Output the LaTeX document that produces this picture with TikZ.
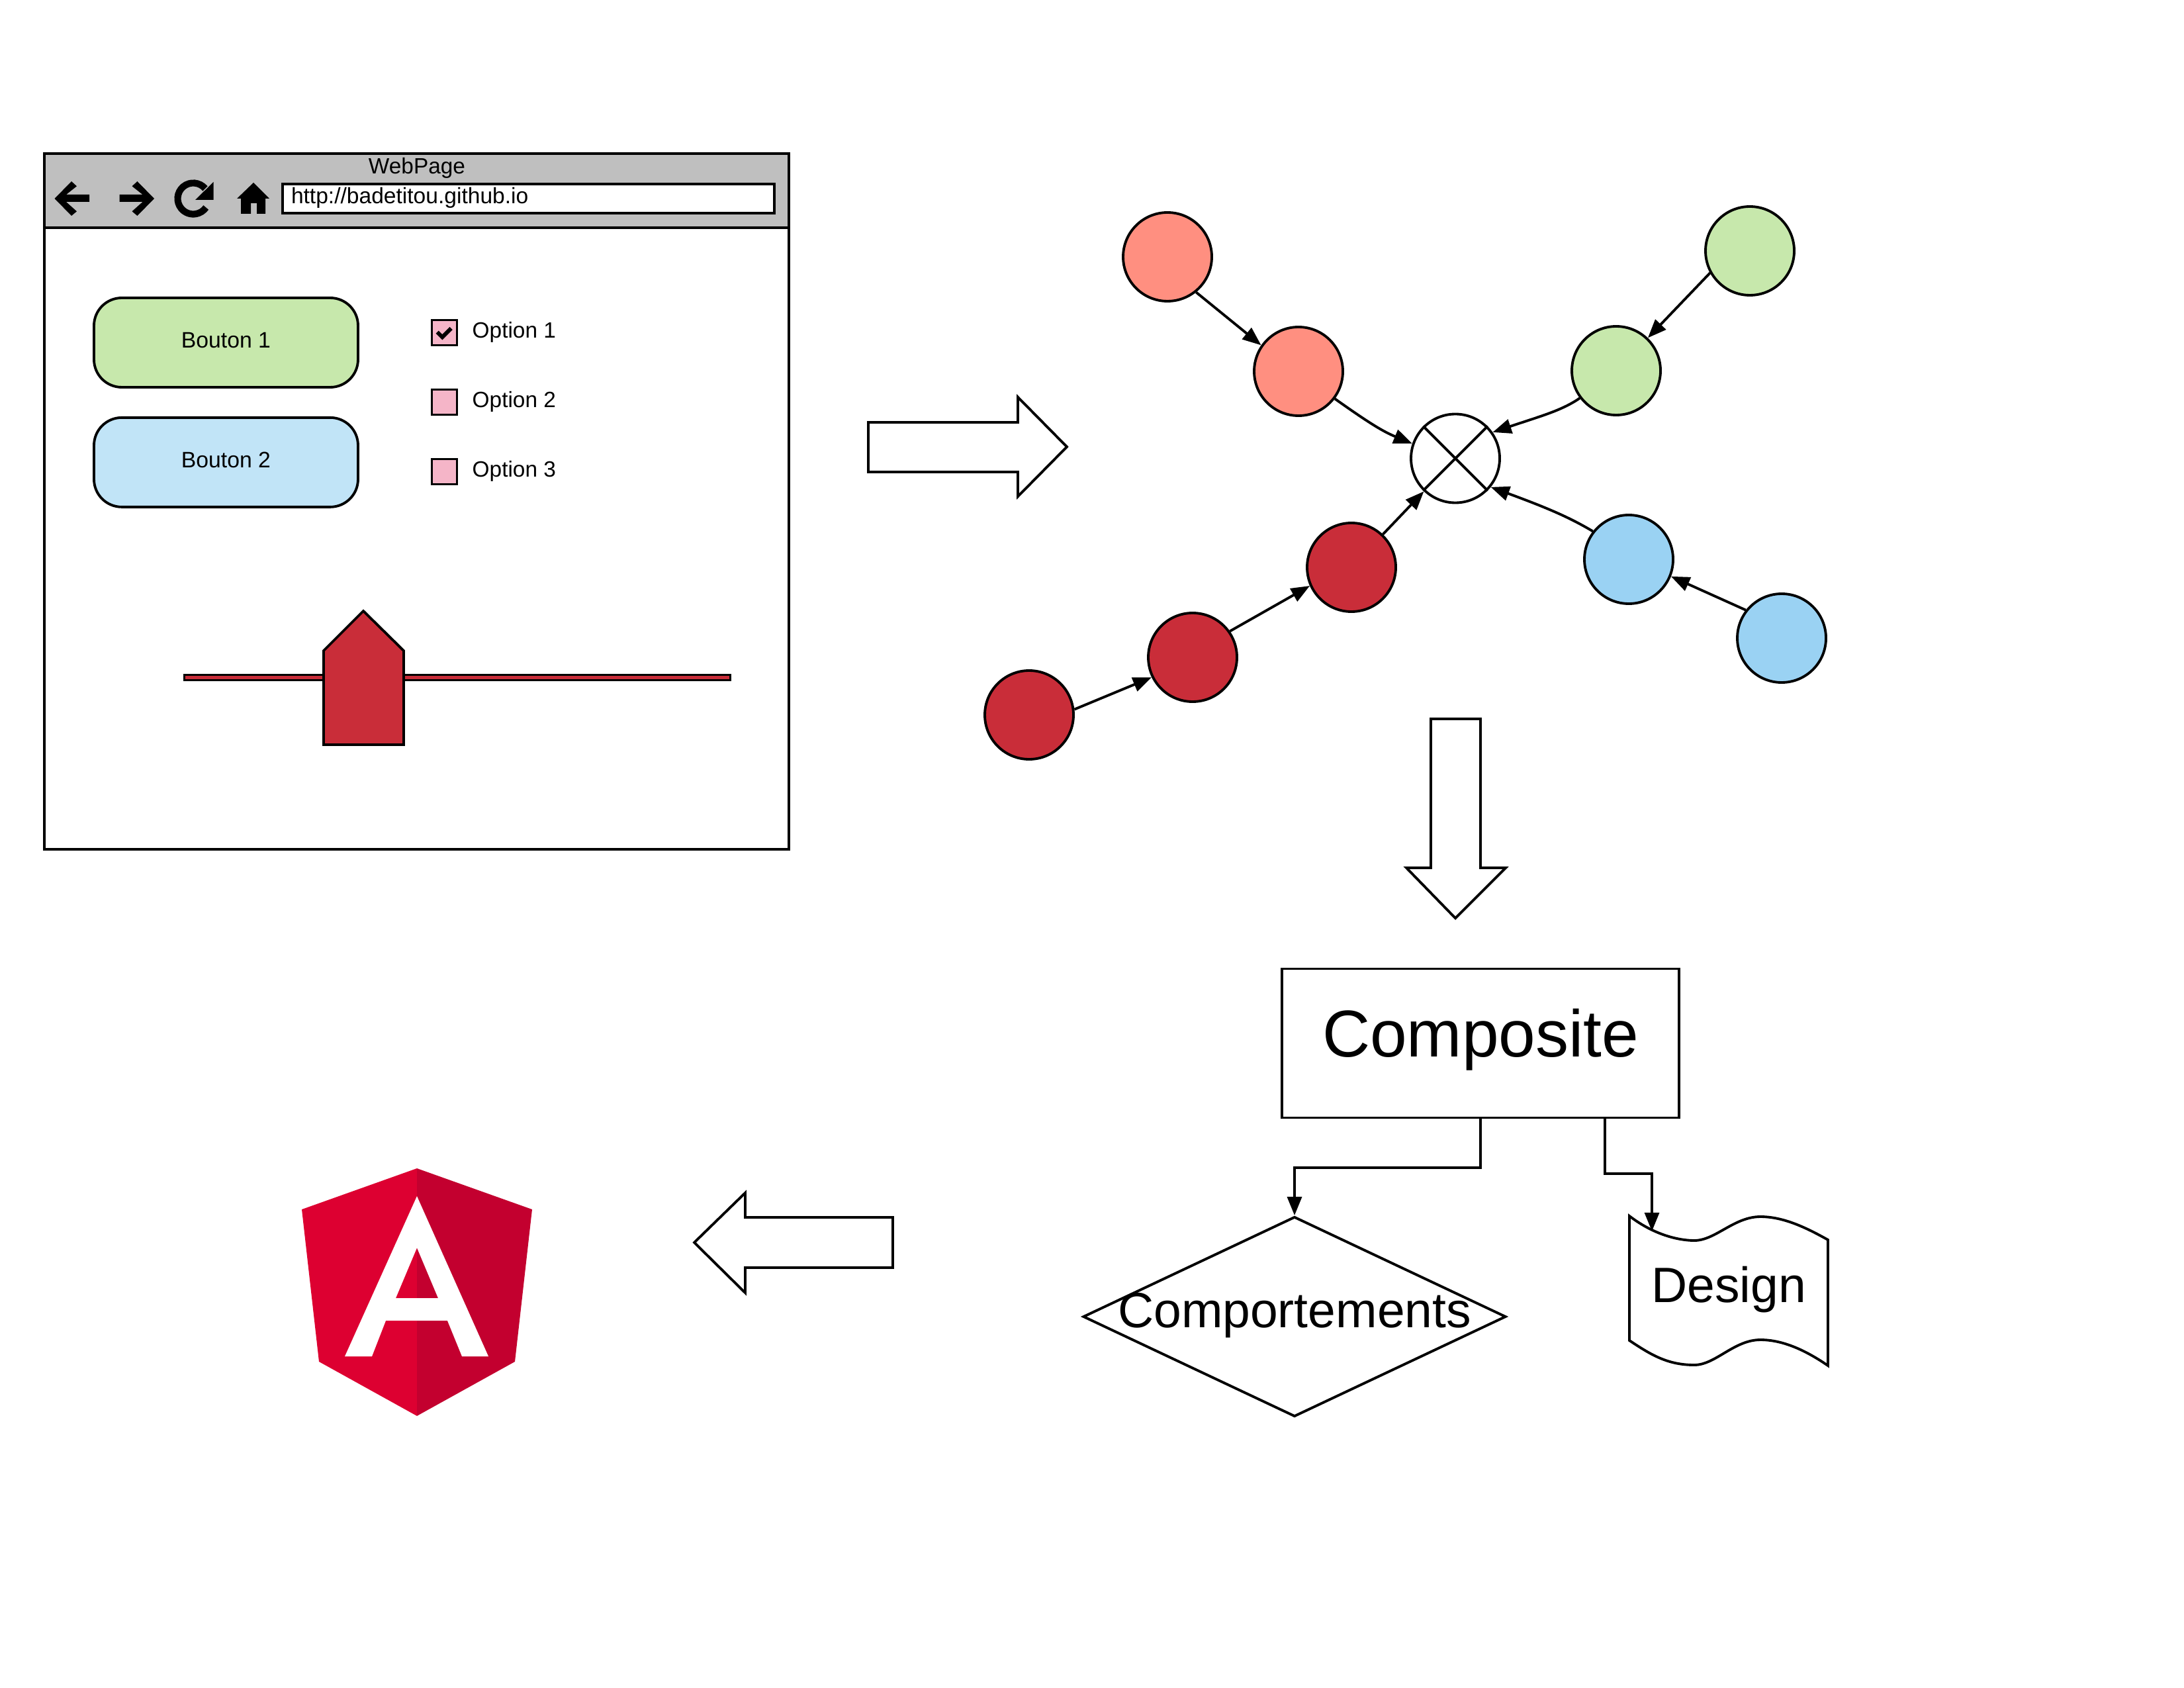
\documentclass[tikz,border=0pt]{standalone}
\usepackage{xcolor}
\usepackage{fontspec}
\setmainfont{Liberation Sans}
\usetikzlibrary{shapes.geometric, arrows.meta, positioning}
\definecolor{toolgray}{HTML}{BFBFBF}
\definecolor{btngreen}{HTML}{C7E8AC}
\definecolor{btnblue}{HTML}{C1E4F7}
\definecolor{checkpink}{HTML}{F5B5C8}
\definecolor{dotred}{HTML}{C92D39}
\definecolor{dotsalmon}{HTML}{FF8F80}
\definecolor{dotblue}{HTML}{9AD2F3}
\definecolor{ngred}{HTML}{DD0031}
\definecolor{ngdark}{HTML}{C3002F}
\tikzset{
  line/.style={line width=1.1pt, line join=miter},
  link/.style={line, -{Triangle[length=8pt, width=6.2pt]}},
  dot/.style={circle, draw, line, minimum size=1.34cm, inner sep=0pt},
  button/.style={draw, line, rounded corners=0.42cm, minimum width=3.99cm, minimum height=1.35cm, fill=#1, text height=6pt, text depth=1.3pt, font=\fontsize{9.6pt}{11pt}\selectfont},
  checkbox/.style={draw, line, fill=checkpink, minimum size=0.38cm, inner sep=0pt},
  optlabel/.style={anchor=west, inner sep=0pt, font=\fontsize{9.5pt}{11pt}\selectfont},
  bigarrow/.style={draw, line, fill=white}
}

\begin{document}
\begin{tikzpicture}[x=1cm, y=-1cm]
  \useasboundingbox (0,0) rectangle (33,25.5);
  \fill[white] (0,0) rectangle (33,25.5);

  % web page
  \node[draw, line, fill=white, anchor=north west, minimum width=11.25cm, minimum height=10.51cm, inner sep=0pt] (page) at (0.65,2.30) {};
  \node[draw, line, fill=toolgray, anchor=north west, minimum width=11.25cm, minimum height=1.12cm, inner sep=0pt] (toolbar) at (0.65,2.30) {};
  \node[font=\fontsize{9.5pt}{11pt}\selectfont, inner sep=0pt] (pagetitle) at (6.3,2.54) {WebPage};
  \node[draw, line, fill=white, minimum width=7.43cm, minimum height=0.44cm, inner sep=0pt, text width=7.17cm, align=left, text height=7.2pt, text depth=3pt, font=\fontsize{9.55pt}{11pt}\selectfont] (address) at (7.985,3.00) {http://badetitou.github.io};

  \fill (0.825,3.00) -- (1.08,2.74) -- (1.16,2.813) -- (1.00,2.94) -- (1.35,2.94) -- (1.35,3.05) -- (1.00,3.05) -- (1.16,3.193) -- (1.08,3.26) -- cycle;
  \fill (2.33,3.00) -- (2.075,2.74) -- (1.995,2.813) -- (2.155,2.94) -- (1.805,2.94) -- (1.805,3.05) -- (2.155,3.05) -- (1.995,3.193) -- (2.075,3.26) -- cycle;
  \draw[line width=2.9pt] (3.10,2.849) arc (-40:-325:0.235);
  \fill (3.225,2.75) -- (3.225,3.02) -- (2.95,3.02) -- cycle;
  \fill (3.83,2.76) -- (4.07,3.00) -- (4.01,3.00) -- (4.01,3.23) -- (3.88,3.23) -- (3.88,3.07) -- (3.79,3.07) -- (3.79,3.23) -- (3.64,3.23) -- (3.64,3.00) -- (3.58,3.00) -- cycle;

  \node[button=btngreen] (btnone) at (3.415,5.175) {Bouton 1};
  \node[button=btnblue, below=0.42cm of btnone] (btntwo) {Bouton 2};

  \foreach \t [count=\i] in {1,2,3} {
    \node[checkbox] (box\i) at (6.715, 3.975 + \i*1.05) {};
    \node[optlabel] (opt\i) at (7.13, 3.97 + \i*1.05) {Option \t};
  }
  \draw[line width=1.7pt] (6.607,5.017) -- (6.683,5.093) -- (6.817,4.96);

  \node[draw, line width=0.9pt, fill=dotred, anchor=west, minimum width=8.25cm, minimum height=0.08cm, inner sep=0pt] (track) at (2.765,10.235) {};
  \draw[line, fill=dotred] (4.89,9.83) -- (5.49,9.23) -- (6.10,9.83) -- (6.10,11.25) -- (4.89,11.25) -- cycle;

  \draw[bigarrow] (13.12,6.38) -- (15.38,6.38) -- (15.38,6.00) -- (16.12,6.75) -- (15.38,7.50) -- (15.38,7.13) -- (13.12,7.13) -- cycle;

  % graph
  \node[dot, fill=white] (mix) at (21.99,6.925) {};
  \draw[line] (mix.45) -- (mix.225);
  \draw[line] (mix.135) -- (mix.-45);

  \foreach \n/\c/\x/\y in {salmona/dotsalmon/17.64/3.88, salmonb/dotsalmon/19.62/5.61,
      greena/btngreen/26.44/3.79, greenb/btngreen/24.42/5.60,
      bluea/dotblue/26.92/9.64, blueb/dotblue/24.61/8.45,
      reda/dotred/15.55/10.80, redb/dotred/18.02/9.93, redc/dotred/20.42/8.57} {
    \node[dot, fill=\c] (\n) at (\x,\y) {};
  }
  \draw[link] (salmona.-51) -- (salmonb.145);
  \draw[link] (greena.-151) -- (greenb.46);
  \draw[link] (bluea.142) -- (blueb.-22);
  \draw[link] (reda.7) -- (redb.-154);
  \draw[link] (redb.35) -- (redc.-156);
  \draw[link] (redc) -- (mix);
  \draw[link] (salmonb.-37) .. controls (20.70,6.40) and (20.90,6.52) .. (mix.161);
  \draw[link] (greenb.-143) .. controls (23.60,6.20) and (23.30,6.28) .. (mix.35);
  \draw[link] (blueb.142) .. controls (23.72,7.82) and (23.40,7.68) .. (mix.-39);

  \draw[bigarrow] (21.62,10.86) -- (22.37,10.86) -- (22.37,13.11) -- (22.75,13.11) -- (21.99,13.87) -- (21.25,13.11) -- (21.62,13.11) -- cycle;

  % composite
  \node[draw, line, minimum width=6cm, minimum height=2.25cm, inner sep=0pt, text height=17.4pt, text depth=5.8pt, font=\fontsize{28.45pt}{32pt}\selectfont] (composite) at (22.37,15.76) {Composite};
  \node[diamond, draw, line, minimum width=6.39cm, minimum height=3.02cm, inner sep=0pt, label={[font=\fontsize{21.35pt}{24pt}\selectfont, yshift=0.015cm]center:Comportements}] (behave) at (19.56,19.89) {};
  \draw[line] (24.62,18.37) .. controls (25.05,18.70) and (25.45,18.74) .. (25.60,18.74) .. controls (25.92,18.74) and (26.20,18.38) .. (26.60,18.38) .. controls (26.95,18.38) and (27.30,18.55) .. (27.62,18.73) -- (27.62,20.63) .. controls (27.30,20.41) and (26.95,20.24) .. (26.60,20.24) .. controls (26.20,20.24) and (25.92,20.62) .. (25.60,20.62) .. controls (25.20,20.62) and (24.95,20.47) .. (24.62,20.25) -- cycle;
  \node[inner sep=0pt, font=\fontsize{21.35pt}{24pt}\selectfont] (design) at (26.12,19.48) {Design};
  \coordinate (designtop) at (24.96,18.60);
  \coordinate (compright) at (24.25,16.885);

  \draw[link] (composite.south) -- (22.37,17.64) -- (19.56,17.64) -- (behave.north);
  \draw[link] (compright) -- (24.25,17.73) -- (24.96,17.73) -- (designtop);

  \draw[bigarrow] (13.49,18.39) -- (11.26,18.39) -- (11.26,18.02) -- (10.49,18.77) -- (11.26,19.53) -- (11.26,19.15) -- (13.49,19.15) -- cycle;

  % logo
  \fill[ngred] (6.30,17.65) -- (4.56,18.27) -- (4.82,20.57) -- (6.30,21.39) -- cycle;
  \fill[ngdark] (6.30,17.65) -- (8.04,18.27) -- (7.78,20.57) -- (6.30,21.39) -- cycle;
  \fill[white, even odd rule] (6.30,18.07) -- (5.21,20.49) -- (5.62,20.49) -- (5.83,19.95) -- (6.76,19.95) -- (6.98,20.49) -- (7.38,20.49) -- cycle
    (6.30,18.85) -- (5.98,19.61) -- (6.62,19.61) -- cycle;
\end{tikzpicture}
\end{document}
